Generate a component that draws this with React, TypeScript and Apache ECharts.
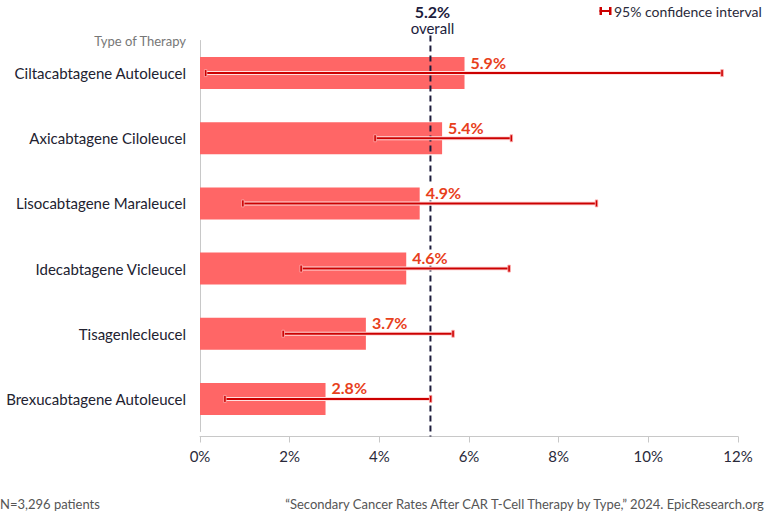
import React, { useEffect, useRef } from "react";
import * as echarts from "echarts";

const categories = [
  "Ciltacabtagene Autoleucel",
  "Axicabtagene Ciloleucel",
  "Lisocabtagene Maraleucel",
  "Idecabtagene Vicleucel",
  "Tisagenlecleucel",
  "Brexucabtagene Autoleucel",
];
const rates = [5.9, 5.4, 4.9, 4.6, 3.7, 2.8];
const ciLow = [0.12, 3.9, 0.95, 2.25, 1.85, 0.55];
const ciHigh = [11.65, 6.95, 8.85, 6.9, 5.65, 5.15];
const overall = 5.14;
const overallLabel = "5.2%";
const xTicks = [0, 2, 4, 6, 8, 10, 12];

const FONT = "Lato, 'Noto Sans', sans-serif";
const RED = "#cc0000";

export default function App() {
  const ref = useRef<HTMLDivElement>(null);
  useEffect(() => {
    if (!ref.current) return;
    const chart = echarts.init(ref.current, undefined, { renderer: "svg" });
    const errData = categories.map((_, i) => [i, ciLow[i], ciHigh[i]]);
    chart.setOption({
      animation: false,
      textStyle: { fontFamily: FONT },
      grid: { left: 200, right: 30, top: 40.5, bottom: 80.5, containLabel: false },
      xAxis: {
        type: "value",
        min: xTicks[0],
        max: xTicks[xTicks.length - 1],
        interval: 2,
        offset: 5,
        axisLine: { show: true, lineStyle: { color: "#c8c8c8", width: 1 } },
        axisTick: { show: true, length: 6, lineStyle: { color: "#c8c8c8" } },
        splitLine: { show: false },
        axisLabel: {
          formatter: (v: number) => v + "%",
          color: "#2a2a3a",
          fontSize: 15,
          fontFamily: FONT,
          margin: 12,
        },
      },
      yAxis: {
        type: "category",
        data: categories,
        inverse: true,
        axisLine: { show: true, lineStyle: { color: "#c8c8c8" } },
        axisTick: { show: false },
        axisLabel: { color: "#222230", fontSize: 15, fontFamily: FONT, margin: 14 },
        name: "Type of Therapy",
        nameLocation: "start",
        nameGap: 0,
        nameTextStyle: {
          color: "#777",
          fontSize: 13,
          fontFamily: FONT,
          align: "right",
          verticalAlign: "middle",
          padding: [0, 14, 0, 0],
        },
      },
      series: [
        {
          type: "bar",
          data: rates,
          barWidth: 32,
          itemStyle: { color: "#ff6666" },
          z: 2,
        },
        {
          type: "custom",
          data: [[overall, 0]],
          z: 3,
          renderItem: (params: any, api: any) => {
            const cs = params.coordSys;
            const x = api.coord([api.value(0), 0])[0];
            return {
              type: "group",
              children: [
                {
                  type: "line",
                  shape: { x1: x, y1: cs.y - 5, x2: x, y2: cs.y + cs.height + 5 },
                  style: { stroke: "#1c1c3c", lineWidth: 2, lineDash: [6, 4] },
                },
                {
                  type: "text",
                  style: {
                    x: x + 2,
                    y: 11,
                    text: overallLabel,
                    fill: "#1c1c3c",
                    font: "bold 16px " + FONT,
                    align: "center",
                    verticalAlign: "middle",
                  },
                },
                {
                  type: "text",
                  style: {
                    x: x + 2,
                    y: 28,
                    text: "overall",
                    fill: "#1c1c3c",
                    font: "15px " + FONT,
                    align: "center",
                    verticalAlign: "middle",
                  },
                },
              ],
            };
          },
        },
        {
          type: "bar",
          data: rates,
          barWidth: 32,
          barGap: "-100%",
          itemStyle: { color: "rgba(0,0,0,0)" },
          silent: true,
          z: 4,
          label: {
            show: true,
            position: "right",
            distance: 4,
            offset: [0, -11],
            formatter: (p: any) => p.value.toFixed(1) + "%",
            color: "#e8401c",
            fontWeight: "bold",
            fontSize: 16,
            fontFamily: FONT,
            backgroundColor: "#ffffff",
            padding: [0, 2, 0, 2],
          },
        },
        {
          type: "custom",
          data: errData,
          z: 5,
          renderItem: (params: any, api: any) => {
            const idx = api.value(0);
            const lo = api.coord([api.value(1), idx]);
            const hi = api.coord([api.value(2), idx]);
            const y = lo[1];
            const h = 7;
            return {
              type: "group",
              children: [
                {
                  type: "line",
                  shape: { x1: lo[0], y1: y, x2: hi[0], y2: y },
                  style: { stroke: "#ffdede", lineWidth: 4 },
                },
                {
                  type: "line",
                  shape: { x1: lo[0], y1: y, x2: hi[0], y2: y },
                  style: { stroke: RED, lineWidth: 2 },
                },
                {
                  type: "rect",
                  shape: { x: lo[0] - 1, y: y - h / 2, width: 2.5, height: h },
                  style: { fill: RED, stroke: "#ffb0b0", lineWidth: 0.8 },
                },
                {
                  type: "rect",
                  shape: { x: hi[0] - 1.5, y: y - h / 2, width: 2.5, height: h },
                  style: { fill: RED, stroke: "#ffb0b0", lineWidth: 0.8 },
                },
              ],
            };
          },
        },
      ],
      graphic: [
        {
          type: "group",
          left: 597,
          top: 7,
          children: [
            { type: "line", shape: { x1: 0, y1: 4, x2: 11, y2: 4 }, style: { stroke: RED, lineWidth: 2 } },
            { type: "rect", shape: { x: 0, y: 0, width: 2.5, height: 8 }, style: { fill: RED } },
            { type: "rect", shape: { x: 9.5, y: 0, width: 2.5, height: 8 }, style: { fill: RED } },
          ],
        },
        {
          type: "text",
          left: 614,
          top: 4,
          style: { text: "95% confidence interval", fill: "#2a2a3a", font: "14px " + FONT },
        },
        {
          type: "text",
          left: 0,
          top: 497,
          style: { text: "N=3,296 patients", fill: "#555", font: "13px " + FONT },
        },
        {
          type: "text",
          right: 1,
          top: 497,
          style: {
            text: "\u201cSecondary Cancer Rates After CAR T-Cell Therapy by Type,\u201d 2024. EpicResearch.org",
            fill: "#555",
            font: "13px " + FONT,
          },
        },
      ],
    });
    return () => chart.dispose();
  }, []);
  return <div ref={ref} style={{ width: 768, height: 512, position: "absolute", left: 0, top: 0 }} />;
}
